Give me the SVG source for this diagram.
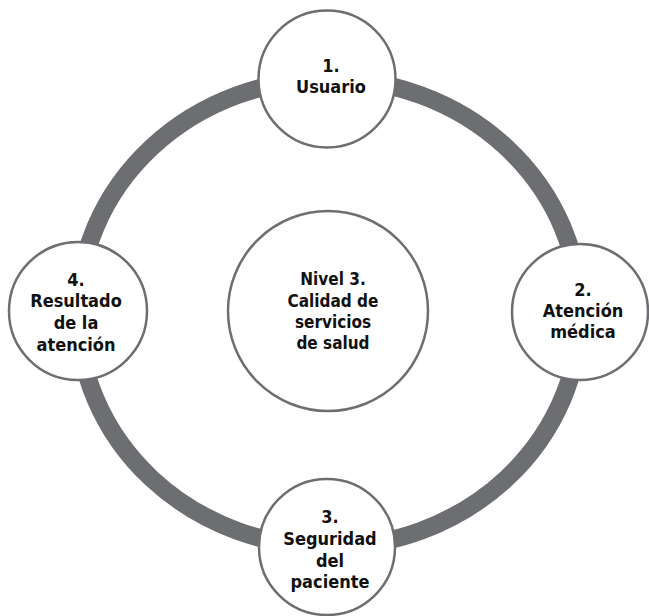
<svg xmlns="http://www.w3.org/2000/svg" width="649" height="616" viewBox="0 0 649 616">
<style>
.node{fill:#ffffff;stroke:#6d6e71;stroke-width:2.5}
.t{font-family:"DejaVu Sans Condensed","DejaVu Sans",sans-serif;font-weight:bold;font-size:18px;fill:#111111;text-anchor:middle}
.c{font-size:17px}
</style>
<rect width="649" height="616" fill="#ffffff"/>
<g id="connectors">
<ellipse cx="329" cy="313" rx="251" ry="234" fill="none" stroke="#6d6e71" stroke-width="18"/>
</g>
<g id="center">
<circle class="node" cx="328" cy="311" r="100"/>
<text class="t c" x="333" y="285">Nivel 3.</text>
<text class="t c" x="333" y="307">Calidad de</text>
<text class="t c" x="333" y="328">servicios</text>
<text class="t c" x="333" y="349">de salud</text>
</g>
<g id="n1">
<circle class="node" cx="327" cy="79" r="68.5"/>
<text class="t" x="331" y="72">1.</text>
<text class="t" x="331" y="93">Usuario</text>
</g>
<g id="n2">
<circle class="node" cx="580" cy="312" r="68"/>
<text class="t" x="583" y="296">2.</text>
<text class="t" x="583" y="317">Atención</text>
<text class="t" x="583" y="338">médica</text>
</g>
<g id="n3">
<circle class="node" cx="327" cy="547" r="68"/>
<text class="t" x="330" y="523">3.</text>
<text class="t" x="330" y="545">Seguridad</text>
<text class="t" x="330" y="567">del</text>
<text class="t" x="330" y="588">paciente</text>
</g>
<g id="n4">
<circle class="node" cx="78" cy="311" r="69"/>
<text class="t" x="76" y="286">4.</text>
<text class="t" x="76" y="307">Resultado</text>
<text class="t" x="76" y="329">de la</text>
<text class="t" x="76" y="351">atención</text>
</g>
</svg>
